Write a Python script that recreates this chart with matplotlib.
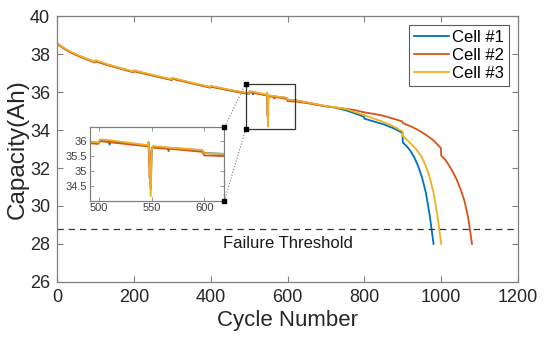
import matplotlib
matplotlib.use("Agg")
import matplotlib.pyplot as plt
from matplotlib.lines import Line2D
from matplotlib.patches import Rectangle

plt.rcParams['font.family'] = ['Liberation Sans', 'DejaVu Sans']

# capacity fade of three cells
c1_cycles = [0, 20, 40, 60, 80, 99, 100, 130, 160, 199, 200, 250, 299, 300, 350, 399, 400, 450,
             492, 499, 501, 509, 510, 511, 530, 546, 547, 548, 549, 550, 551, 570, 598, 600, 620,
             650, 700, 720, 750, 775, 799, 800, 825, 850, 875, 899, 900, 910, 920, 930, 940, 950, 960, 970, 980]
c1_cap = [38.56, 38.28, 38.06, 37.88, 37.72, 37.58, 37.65, 37.45, 37.28, 37.06, 37.12, 36.88, 36.65, 36.72, 36.48, 36.25, 36.3, 36.1,
          35.95, 35.93, 36.03, 35.99, 35.88, 35.99, 35.91, 35.84, 35.95, 35.4, 34.4, 35.7, 35.81, 35.76, 35.69, 35.6, 35.57,
          35.45, 35.25, 35.2, 35.05, 34.88, 34.7, 34.6, 34.45, 34.3, 34.1, 33.85, 33.35, 33.15, 32.9, 32.55, 32.1, 31.5, 30.7, 29.5, 28.0]

c2_cycles = [0, 20, 40, 60, 80, 99, 100, 130, 160, 199, 200, 250, 299, 300, 350, 399, 400, 450,
             492, 499, 501, 530, 546, 547, 548, 549, 550, 565, 566, 567, 598, 600, 620,
             650, 700, 750, 775, 800, 825, 850, 875, 899, 900, 920, 940, 960, 980, 999, 1000,
             1010, 1020, 1030, 1040, 1050, 1060, 1070, 1080]
c2_cap = [38.54, 38.26, 38.04, 37.86, 37.7, 37.56, 37.62, 37.43, 37.26, 37.04, 37.1, 36.86, 36.63, 36.7, 36.46, 36.23, 36.28, 36.08,
          35.92, 35.9, 35.99, 35.88, 35.82, 35.9, 34.78, 35.4, 35.78, 35.74, 35.66, 35.74, 35.64, 35.52, 35.5,
          35.42, 35.25, 35.12, 35.05, 34.93, 34.85, 34.75, 34.6, 34.45, 34.37, 34.2, 34.0, 33.75, 33.45, 33.05, 32.65,
          32.45, 32.15, 31.8, 31.4, 30.9, 30.3, 29.4, 28.0]

c3_cycles = [0, 20, 40, 60, 80, 99, 100, 130, 160, 199, 200, 250, 299, 300, 350, 399, 400, 450,
             492, 499, 501, 510, 530, 546, 547, 548, 549, 550, 551, 570, 598, 600, 620,
             650, 700, 750, 800, 825, 850, 875, 899, 900, 910, 920, 930, 940, 950, 960, 970, 980, 990, 1000]
c3_cap = [38.58, 38.3, 38.08, 37.9, 37.74, 37.6, 37.68, 37.47, 37.3, 37.08, 37.15, 36.9, 36.67, 36.75, 36.5, 36.27, 36.33, 36.12,
          35.97, 35.95, 36.05, 36.02, 35.93, 35.86, 35.97, 35.3, 34.18, 35.7, 35.83, 35.77, 35.7, 35.6, 35.57,
          35.46, 35.27, 35.12, 34.78, 34.6, 34.42, 34.2, 33.93, 33.68, 33.5, 33.3, 33.1, 32.85, 32.55, 32.1, 31.5, 30.7, 29.5, 28.0]

labels = ["Cell #1", "Cell #2", "Cell #3"]
colors = ["#0072BD", "#D95319", "#EDB120"]
threshold = 28.8

zoom_x = (491, 619)
zoom_y = (34.03, 36.45)

fig = plt.figure(figsize=(5.5, 3.43), dpi=100)
ax = fig.add_axes([0.1036, 0.178, 0.8384, 0.775])

series = [(c1_cycles, c1_cap), (c2_cycles, c2_cap), (c3_cycles, c3_cap)]
for (x, y), lab, col in zip(series, labels, colors):
    ax.plot(x, y, color=col, lw=1.3, label=lab)

ax.axhline(threshold, color="#333333", lw=0.9, ls=(0, (5, 4)))
ax.text(600, 28.0, "Failure Threshold", ha="center", va="center", fontsize=12, color="#1a1a1a")

ax.set_xlim(0, 1200)
ax.set_ylim(26, 40)
ax.set_xticks(range(0, 1201, 200))
ax.set_yticks(range(26, 41, 2))
ax.set_xlabel("Cycle Number", fontsize=16, color="#262626", labelpad=3)
ax.set_ylabel("Capacity(Ah)", fontsize=17.5, color="#262626", labelpad=1)
ax.tick_params(direction="in", top=True, right=True, labelsize=13, colors="#808080",
               labelcolor="#262626", length=4, width=0.8, pad=5)
for s in ax.spines.values():
    s.set_color("#808080")
    s.set_linewidth(0.9)

leg = ax.legend(loc="upper right", fontsize=12, frameon=True, fancybox=False,
                handlelength=2.1, handletextpad=0.2, labelspacing=0.18,
                borderpad=0.3, borderaxespad=0, bbox_to_anchor=(0.98, 0.966))
leg.get_frame().set_edgecolor("#333333")
leg.get_frame().set_linewidth(0.8)

# zoom rectangle
ax.add_patch(Rectangle((zoom_x[0], zoom_y[0]), zoom_x[1] - zoom_x[0], zoom_y[1] - zoom_y[0],
                       fill=False, edgecolor="#333333", lw=0.9, zorder=5))

# inset
axin = fig.add_axes([0.163, 0.415, 0.245, 0.214])
for (x, y), col in zip(series, colors):
    axin.plot(x, y, color=col, lw=1.3)
axin.set_xlim(*zoom_x)
axin.set_ylim(*zoom_y)
axin.set_xticks([500, 550, 600])
axin.set_yticks([34.5, 35, 35.5, 36])
axin.set_yticklabels(["34.5", "35", "35.5", "36"])
axin.tick_params(direction="in", top=True, right=True, labelsize=8, colors="#808080",
                 labelcolor="#404040", length=3, width=0.6, pad=2)
for s in axin.spines.values():
    s.set_color("#808080")
    s.set_linewidth(0.9)

# dotted connectors
to_fig = fig.transFigure.inverted()
p_top = to_fig.transform(ax.transData.transform((zoom_x[0], zoom_y[1])))
p_bot = to_fig.transform(ax.transData.transform((zoom_x[0], zoom_y[0])))
q_top = to_fig.transform(axin.transAxes.transform((1, 1)))
q_bot = to_fig.transform(axin.transAxes.transform((1, 0)))
for p, q in [(p_top, q_top), (p_bot, q_bot)]:
    fig.add_artist(Line2D([p[0], q[0]], [p[1], q[1]], transform=fig.transFigure,
                          color="#777777", lw=0.8, ls=":", zorder=10))
    fig.add_artist(Line2D([p[0], q[0]], [p[1], q[1]], transform=fig.transFigure,
                          color="black", lw=0, marker="s", markersize=2.5, zorder=11))

fig.savefig("out.png", dpi=100)
